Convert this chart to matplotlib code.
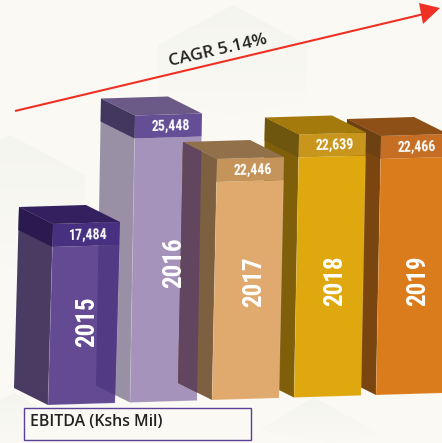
import matplotlib
matplotlib.use("Agg")
import matplotlib.pyplot as plt
import numpy as np
from matplotlib import font_manager as fm
from matplotlib.colors import LinearSegmentedColormap
from matplotlib.patches import Polygon, Rectangle

# ---- data ----
years = ["2015", "2016", "2017", "2018", "2019"]
ebitda = [17484, 25448, 22446, 22639, 22466]
# the drawn column heights are not proportional to the printed values
drawn_heights = [181, 287, 241, 263, 259]
caption = "EBITDA (Kshs Mil)"
cagr_label = "CAGR 5.14%"

# ---- styles ----
BG = "#FAF9F3"
front_c = ["#634A93", "#A593BB", "#E0AA6E", "#DFA80F", "#DB7C1C"]
band_c = ["#46307F", "#644E95", "#C5945A", "#C8961C", "#C76E25"]
top_c = ["#33205F", "#6B5A88", "#92704A", "#A37A0B", "#8F5018"]
side_c = ["#4A3B62", "#9A90A5", "#7D6040", "#7F5F0A", "#7A450F"]
side_band_c = ["#2B1A4F", "#43365F", "#7D6040", "#6F560F", "#6E4112"]
overlap_c = [None, "#533A85", "#62465F", None, None]
year_rise = [0.46, 0.488, 0.49, 0.445, 0.44]
year_dx = [39, 44, 42, 41, 42]
draw_order = [1, 0, 4, 3, 2]

avail = {f.name for f in fm.fontManager.ttflist}
cond = next((n for n in ["Liberation Sans Narrow", "Roboto Condensed", "Open Sans Condensed", "Roboto"] if n in avail), "DejaVu Sans")
opens = "Open Sans"

fig = plt.figure(figsize=(4.42, 4.43), dpi=100, facecolor=BG)
ax = fig.add_axes([0, 0, 1, 1])
ax.set_xlim(0, 442)
ax.set_ylim(443, 0)
ax.axis("off")


def poly(pts, color, z, **kw):
    p = Polygon(pts, closed=True, facecolor=color, edgecolor="none", linewidth=0, zorder=z, **kw)
    ax.add_patch(p)
    return p


# faint hexagons of the background, each fading downwards
fade = LinearSegmentedColormap.from_list("fade", ["#F5F5F0", BG])
for pts in [
    [(233, 5), (307, 45), (307, 100), (233, 115), (158, 100), (158, 45)],
    [(10, 135), (85, 175), (85, 260), (10, 270), (0, 260), (0, 140)],
    [(14, 393), (60, 420), (60, 443), (0, 443), (0, 400)],
    [(314, 397), (381, 435), (330, 443), (260, 430)],
]:
    patch = poly(pts, "none", 0.4)
    xs, ys = zip(*pts)
    im = ax.imshow(np.linspace(0, 1, 64).reshape(-1, 1), cmap=fade, vmin=0, vmax=1, aspect="auto",
                   extent=(min(xs), max(xs), max(ys), min(ys)), zorder=0.5)
    im.set_clip_path(patch)
ax.set_xlim(0, 442)
ax.set_ylim(443, 0)

DX, DY = -34, -17  # depth vector of the side faces
WIDTH, SKEW, LEAN, BAND = 67, 2, 5, 23


def column(i):
    h = drawn_heights[i]
    x0 = 48 + 82 * i
    y0 = 405 - 2.5 * i
    bl = (x0, y0)
    br = (x0 + WIDTH, y0 - SKEW)
    tl = (x0 + LEAN, y0 - h)
    tr = (x0 + LEAN + WIDTH, y0 - h - SKEW)
    return bl, br, tr, tl


fronts = {}
sides = {}
for order, i in enumerate(draw_order):
    z = 2 + order
    bl, br, tr, tl = column(i)
    frac = BAND / (bl[1] - tl[1])
    bandl = (tl[0] + (bl[0] - tl[0]) * frac, tl[1] + BAND)
    bandr = (tr[0] + (br[0] - tr[0]) * frac, tr[1] + BAND)
    back_t = (tl[0] + DX, tl[1] + DY)
    back_b = (bl[0] + DX, bl[1] + DY)
    back_band = (bandl[0] + DX, bandl[1] + DY)
    back_tr = (tr[0] + DX, tr[1] + DY)

    poly([back_t, tl, bl, back_b], side_c[i], z)
    poly([back_t, tl, bandl, back_band], side_band_c[i], z + 0.01)
    fronts[i] = poly([bl, br, bandr, bandl], front_c[i], z + 0.03)
    sides[i] = [back_t, tl, bl, back_b]
    poly([bandl, bandr, tr, tl], band_c[i], z + 0.04)
    poly([back_t, back_tr, tr, tl], top_c[i], z + 0.05)
    ax.add_patch(Polygon([bandl, bl, br, bandr], closed=False, fill=False,
                         edgecolor="#FFFFFF", alpha=0.15, linewidth=0.7, zorder=z + 0.06))

    # printed value in the band
    ax.text((bandl[0] + tr[0]) / 2 + 2, (tl[1] + bandr[1]) / 2 + 0.5, f"{ebitda[i]:,}",
            color="white", family=cond, fontweight="bold", fontsize=10,
            ha="center", va="center", rotation=1.5, zorder=20)
    # year running up the column
    yy = bl[1] - year_rise[i] * drawn_heights[i]
    ax.text(bl[0] + year_dx[i], yy, years[i], color="white", family=cond, fontweight="bold",
            fontsize=18, ha="center", va="center", rotation=90, zorder=20)

# side faces show through on the neighbour to their left
for i, c in enumerate(overlap_c):
    if c is not None:
        ov = poly(sides[i], c, 9)
        ov.set_clip_path(fronts[i - 1])

# CAGR arrow
ax.plot([15, 424], [111, 14], color="#EE3124", lw=1.5, solid_capstyle="butt", zorder=10)
poly([(440, 8), (419, 3), (423, 24)], "#EE3124", 10)
ax.text(218, 51, cagr_label, color="#222222", family=opens, fontweight="semibold",
        fontsize=12.6, ha="center", va="center", rotation=13, zorder=11)

# caption box
ax.add_patch(Rectangle((23.5, 407.5), 227, 32, facecolor=BG, edgecolor="#5B3F9B", linewidth=1, zorder=12))
ax.text(30, 422, caption, color="#222222", family=opens, fontweight="semibold",
        fontsize=11.4, ha="left", va="center", zorder=13)

fig.savefig("out.png", dpi=100, facecolor=BG)
